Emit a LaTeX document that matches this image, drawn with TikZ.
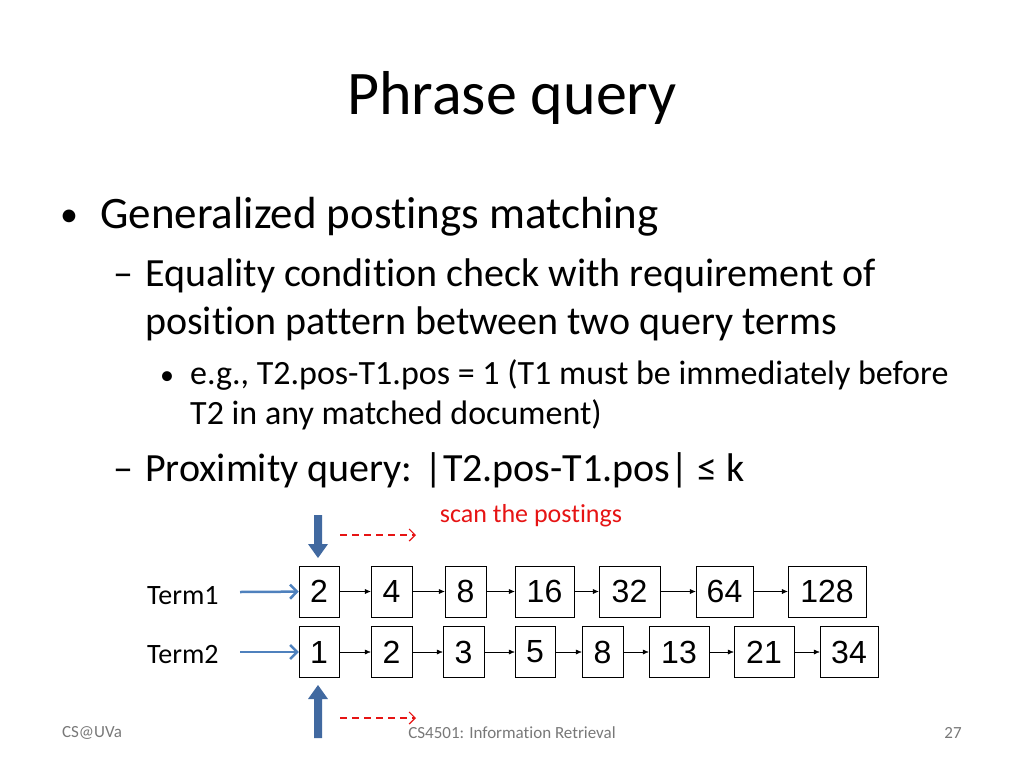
\documentclass[tikz,border=0pt]{standalone}
\usepackage{fontspec}
\setmainfont[RawFeature=-liga]{Carlito}
\newfontfamily\arialfont{Liberation Sans}
\usepackage{tikz}
\usetikzlibrary{positioning,arrows.meta}
\definecolor{myblue}{RGB}{79,129,189}
\definecolor{mydarkblue}{RGB}{65,105,160}
\definecolor{myred}{RGB}{230,20,20}
\definecolor{mygray}{RGB}{120,120,120}

\begin{document}
\begin{tikzpicture}[x=1pt, y=-1pt,
  post/.style = {draw, thin, minimum height=51pt, inner sep=0pt, font=\arialfont\fontsize{32}{32}\selectfont},
  link/.style = {-{Latex[length=6pt,width=5pt]}, thin},
  txt/.style = {anchor=base west, inner sep=0pt},
  feed/.style = {-{Straight Barb[length=7pt,width=14pt]}, myblue, line width=2.5pt},
  scan/.style = {-{Straight Barb[length=6pt,width=12pt]}, myred, line width=1.2pt, dash pattern=on 7pt off 5pt}]
  \useasboundingbox (0,0) rectangle (1024,768);
  % title and bullets
  \node (title) at (512,98) {\fontsize{62}{62}\selectfont Phrase query};
  \node[txt] at (60,226) {\fontsize{36}{36}\selectfont •};
  \node[txt] (b1) at (100,228) {\fontsize{45}{45}\selectfont Generalized postings matching};
  \node[txt] at (113,286) {\fontsize{40}{40}\selectfont –};
  \node[txt] (b2) at (145,286) {\fontsize{40}{40}\selectfont Equality condition check with requirement of};
  \node[txt] at (145,334) {\fontsize{40}{40}\selectfont position pattern between two query terms};
  \node[txt] at (160,384) {\fontsize{28}{28}\selectfont •};
  \node[txt] (b3) at (190,384) {\fontsize{34}{34}\selectfont e.g., T2.pos-T1.pos = 1 (T1 must be immediately before};
  \node[txt] at (190,424) {\fontsize{34}{34}\selectfont T2 in any matched document)};
  \node[txt] at (113,481) {\fontsize{40}{40}\selectfont –};
  \node[txt] (b4) at (145,481) {\fontsize{40}{40}\selectfont Proximity query: |T2.pos-T1.pos| ≤ k};
  \node[myred] (scanlabel) at (531,516) {\fontsize{26}{26}\selectfont scan the postings};
  % posting lists
  \node[txt] (term1) at (147,604) {\fontsize{28}{28}\selectfont Term1};
  \node[txt] (term2) at (147,663) {\fontsize{28}{28}\selectfont Term2};
  \foreach \n/\x/\w/\v in {1/319/40/2, 2/391.5/41/4, 3/465.5/41/8, 4/544.5/59/16, 5/629.5/61/32, 6/724.5/57/64, 7/827/78/128}
    \node[post, minimum width=\w pt] (a\n) at (\x,591.5) {\v};
  \foreach \n/\x/\w/\v in {1/319/40/1, 2/391.5/41/2, 3/463.5/41/3, 4/535/40/5, 5/602.5/41/8, 6/679/60/13, 7/764/60/21, 8/849/58/34}
    \node[post, minimum width=\w pt] (b\n) at (\x,652) {\v};
  \foreach \i [count=\j from 2] in {1,...,6}
    \draw[link] (a\i) -- (a\j);
  \foreach \i [count=\j from 2] in {1,...,7}
    \draw[link] (b\i) -- (b\j);
  \coordinate (f1) at (240,592);
  \coordinate (f2) at (240,652);
  \draw[feed] (f1) -- (a1);
  \draw[feed] (f2) -- (b1);
  % pointers
  \fill[mydarkblue] (314,515) -- (322,515) -- (322,544) -- (328,544) -- (318,558) -- (308,544) -- (314,544) -- cycle;
  \fill[mydarkblue] (314,738) -- (322,738) -- (322,699) -- (328,699) -- (318,685) -- (308,699) -- (314,699) -- cycle;
  \coordinate (s1) at (340,535);
  \coordinate (t1) at (416,535);
  \coordinate (s2) at (340,718);
  \coordinate (t2) at (416,718);
  \draw[scan] (s1) -- (t1);
  \draw[scan] (s2) -- (t2);
  % footer
  \node[mygray] (left) at (92,733) {\fontsize{17}{17}\selectfont CS@UVa};
  \node[mygray] (mid) at (512,733) {\fontsize{17}{17}\selectfont CS4501: Information Retrieval};
  \node[mygray] (page) at (953,733) {\fontsize{17}{17}\selectfont 27};
\end{tikzpicture}
\end{document}
